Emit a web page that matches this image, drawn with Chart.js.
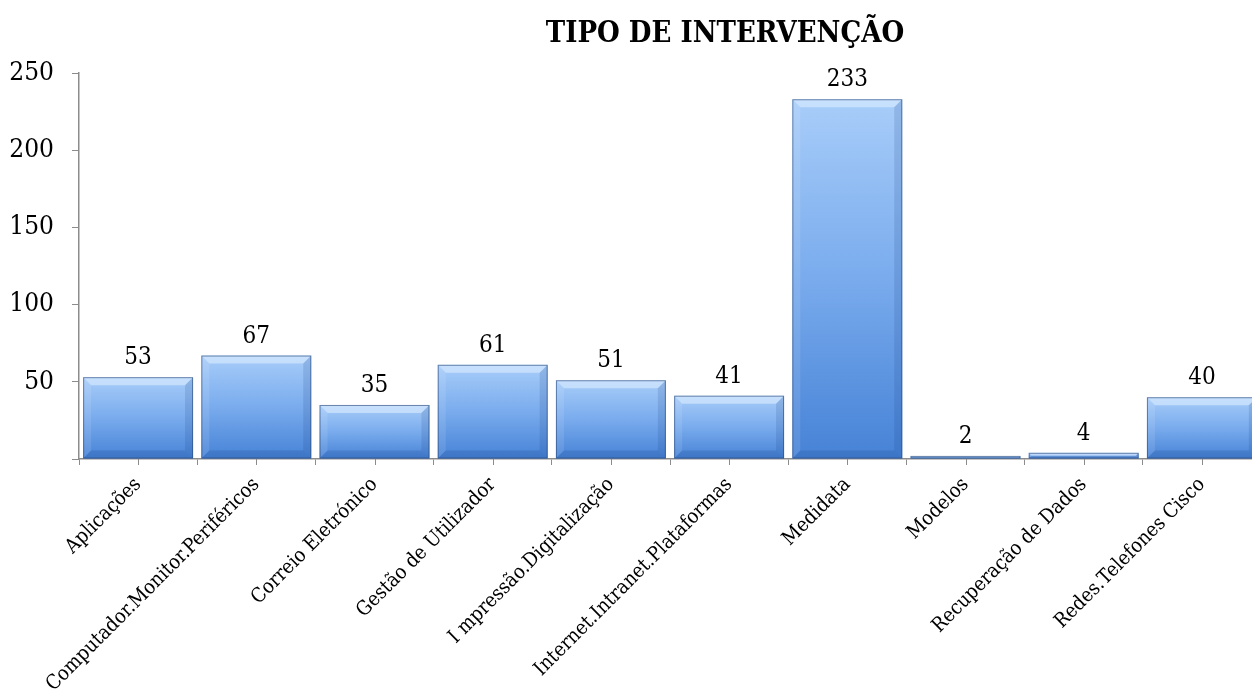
<!DOCTYPE html>
<html><head><meta charset="utf-8">
<script src="https://cdn.jsdelivr.net/npm/chart.js@4/dist/chart.umd.min.js"></script>
<style>html,body{margin:0;padding:0;overflow:hidden;background:#fff;width:1252px;height:693px}#wrap{position:absolute;left:0;top:0;width:1262px;height:693px}</style>
</head><body><div id="wrap"><canvas id="c" width="1262" height="693"></canvas></div>
<script>
const chartTitle = "TIPO DE INTERVENÇÃO";
const categories = ["Aplicações","Computador.Monitor.Periféricos","Correio Eletrónico","Gestão de Utilizador","I mpressão.Digitalização","Internet.Intranet.Plataformas","Medidata","Modelos","Recuperação de Dados","Redes.Telefones Cisco"];
const values = [53,67,35,61,51,41,233,2,4,40];
const yTicks = [0,50,100,150,200,250];

const FONT = "'DejaVu Serif Condensed', 'DejaVu Serif', serif";

function barGradient(ctx){
  const chart = ctx.chart; const ca = chart.chartArea;
  if(!ca) return '#6b9fe6';
  const y = chart.scales.y;
  const top = y.getPixelForValue(ctx.raw), bot = y.getPixelForValue(0);
  if (bot - top < 2) return '#8ab8f2';
  const g = chart.ctx.createLinearGradient(0, top, 0, bot);
  g.addColorStop(0, '#a8cdf9');
  g.addColorStop(0.5, '#79abed');
  g.addColorStop(1, '#4682d6');
  return g;
}

const bevelPlugin = {
  id:'bevel',
  afterDatasetsDraw(chart){
    const c = chart.ctx;
    chart.getDatasetMeta(0).data.forEach(bar=>{
      const l = bar.x - bar.width/2, r = bar.x + bar.width/2, t = bar.y, b = bar.base;
      const h = b - t; const d = Math.min(8, h/2);
      c.save();
      c.beginPath(); c.moveTo(l,t); c.lineTo(r,t); c.lineTo(r-d,t+d); c.lineTo(l+d,t+d); c.closePath();
      c.fillStyle='rgba(220,236,255,0.6)'; c.fill();
      c.beginPath(); c.moveTo(l,t); c.lineTo(l+d,t+d); c.lineTo(l+d,b-d); c.lineTo(l,b); c.closePath();
      c.fillStyle='rgba(255,255,255,0.10)'; c.fill();
      c.beginPath(); c.moveTo(r,t); c.lineTo(r-d,t+d); c.lineTo(r-d,b-d); c.lineTo(r,b); c.closePath();
      c.fillStyle='rgba(20,60,130,0.15)'; c.fill();
      c.beginPath(); c.moveTo(l,b); c.lineTo(l+d,b-d); c.lineTo(r-d,b-d); c.lineTo(r,b); c.closePath();
      c.fillStyle='rgba(20,60,130,0.18)'; c.fill();
      c.strokeStyle='rgba(40,70,120,0.6)'; c.lineWidth=1;
      c.strokeRect(l+0.5,t+0.5,bar.width-1,h-1>0?h-1:0.5);
      c.restore();
    });
  }
};

const extrasPlugin = {
  id:'extras',
  afterDraw(chart){
    const c = chart.ctx; const x = chart.scales.x; const y = chart.scales.y;
    c.save();
    c.strokeStyle='#8c8c8c'; c.lineWidth=1;
    categories.forEach((_,i)=>{
      const px = Math.round(x.getPixelForValue(i))+0.5;
      c.beginPath(); c.moveTo(px, y.bottom); c.lineTo(px, y.bottom+6); c.stroke();
    });
    c.fillStyle='#000'; c.font="24px "+FONT; c.textAlign='center'; c.textBaseline='alphabetic';
    chart.getDatasetMeta(0).data.forEach((bar,i)=>{
      c.fillText(String(values[i]), bar.x, bar.y - 13);
    });
    c.font="bold 29px "+FONT; c.textAlign='center';
    c.fillText(chartTitle, 725, 42);
    c.restore();
  }
};

new Chart(document.getElementById('c'), {
  type:'bar',
  data:{labels:categories, datasets:[{data:values, backgroundColor:barGradient, borderWidth:0, barPercentage:0.93, categoryPercentage:1}]},
  options:{
    responsive:false, animation:false,
    layout:{padding:{top:73, left:0, right:1, bottom:0}},
    plugins:{legend:{display:false}, tooltip:{enabled:false}, title:{display:false}},
    scales:{
      x:{
        grid:{offset:true, drawOnChartArea:false, tickLength:6, color:'#8c8c8c'},
        border:{color:'#8c8c8c', width:1.5},
        ticks:{font:{family:FONT, size:20}, color:'#000', maxRotation:45, minRotation:45, autoSkip:false, padding:8},
        afterFit(s){ s.height = 693 - 459; }
      },
      y:{
        min:0, max:250,
        afterBuildTicks(s){ s.ticks = yTicks.map(v=>({value:v})); },
        grid:{drawOnChartArea:false, tickLength:7, color:'#8c8c8c'},
        border:{color:'#8c8c8c', width:1.5},
        ticks:{font:{family:FONT, size:26}, color:'#000', padding:18, callback:(v)=> v===0 ? '' : String(v)},
        afterFit(s){ s.width = 79; }
      }
    }
  },
  plugins:[bevelPlugin, extrasPlugin]
});
</script></body></html>
